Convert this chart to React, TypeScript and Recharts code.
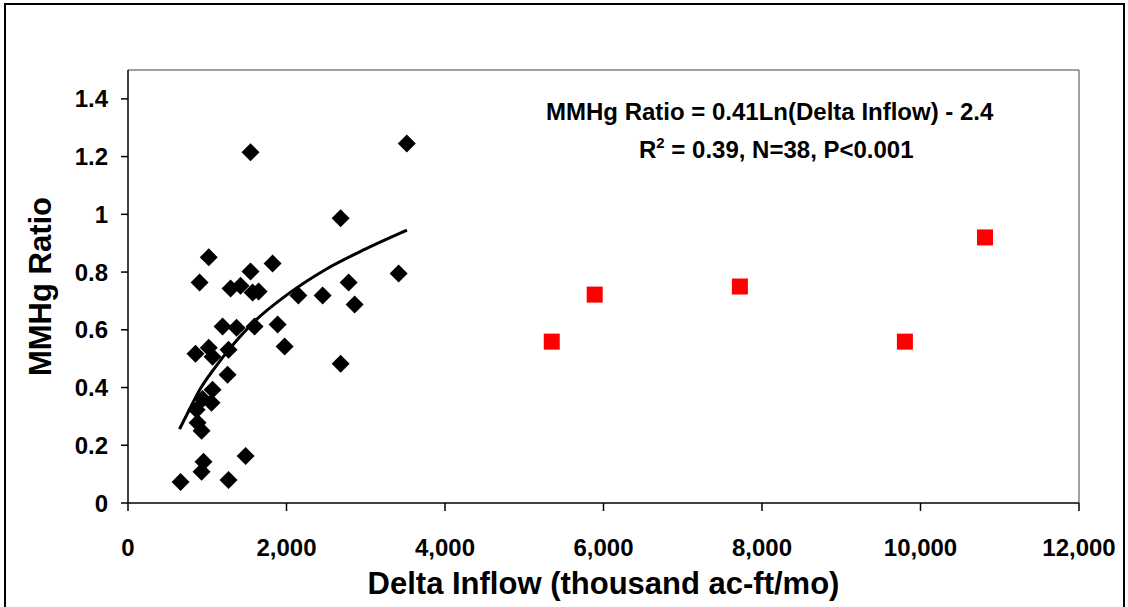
import { ComposedChart, Scatter, Line, XAxis, YAxis, ReferenceLine } from 'recharts';

// Delta inflow (thousand ac-ft/mo) vs MMHg ratio, fitted samples (black)
const sampleInflow = [663, 852, 865, 878, 903, 928, 928, 941, 953, 1019, 1019, 1054, 1067, 1067, 1193, 1256, 1269, 1269, 1294, 1370, 1420, 1484, 1546, 1546, 1572, 1597, 1648, 1824, 1888, 1976, 2150, 2456, 2683, 2683, 2784, 2860, 3415, 3518];
const sampleRatio = [0.073, 0.517, 0.323, 0.278, 0.764, 0.25, 0.108, 0.36, 0.143, 0.851, 0.538, 0.347, 0.507, 0.392, 0.611, 0.444, 0.531, 0.08, 0.743, 0.607, 0.753, 0.163, 1.215, 0.802, 0.729, 0.611, 0.733, 0.83, 0.618, 0.542, 0.719, 0.719, 0.986, 0.482, 0.764, 0.688, 0.795, 1.245];

// high-flow months left out of the fit (red)
const highInflow = [5347, 5889, 7721, 9803, 10814];
const highRatio = [0.559, 0.722, 0.75, 0.559, 0.92];

// log trend line
const trendInflow = [650, 750, 900, 1100, 1300, 1600, 2000, 2500, 3000, 3520];
const trendRatio = [0.256, 0.31, 0.39, 0.47, 0.54, 0.63, 0.72, 0.81, 0.88, 0.945];

const xTicks = [0, 2000, 4000, 6000, 8000, 10000, 12000];
const yTicks = [0, 0.2, 0.4, 0.6, 0.8, 1, 1.2, 1.4];

const samples = sampleInflow.map((x, i) => ({ x, y: sampleRatio[i] }));
const highFlow = highInflow.map((x, i) => ({ x, y: highRatio[i] }));
const trend = trendInflow.map((x, i) => ({ x, y: trendRatio[i] }));

const FONT = '"Liberation Sans", Arial, sans-serif';

const Diamond = (props: any) => {
  const { cx, cy } = props;
  const r = 9;
  return <polygon points={`${cx},${cy - r} ${cx + r},${cy} ${cx},${cy + r} ${cx - r},${cy}`} fill="#000" />;
};

const Square = (props: any) => {
  const { cx, cy } = props;
  return <rect x={cx - 8} y={cy - 8} width={16} height={16} fill="#ff0000" />;
};

export default function App() {
  const tickStyle = { fill: '#000', fontSize: 24, fontWeight: 700, fontFamily: FONT };

  return (
    <div style={{ position: 'absolute', left: 0, top: 0, width: 1128, height: 607, background: '#fff', overflow: 'hidden' }}>
      <div
        style={{
          position: 'absolute',
          left: 4,
          top: 3,
          width: 1121,
          height: 640,
          border: '2px solid #000',
          boxSizing: 'border-box',
        }}
      />
      <ComposedChart width={1128} height={607} margin={{ top: 70, right: 49, bottom: 0, left: 0 }} style={{ position: 'absolute', left: 0, top: 0 }}>
        <XAxis
          type="number"
          dataKey="x"
          domain={[0, 12000]}
          ticks={xTicks}
          tickFormatter={(v: number) => v.toLocaleString('en-US')}
          height={104}
          tickSize={8}
          tickMargin={28}
          tick={tickStyle}
          axisLine={{ stroke: '#000', strokeWidth: 1.5 }}
          tickLine={{ stroke: '#000', strokeWidth: 1.5 }}
          label={{
            value: 'Delta Inflow (thousand ac-ft/mo)',
            position: 'insideBottom',
            offset: 13,
            style: { fill: '#000', fontSize: 31, fontWeight: 700, fontFamily: FONT },
          }}
        />
        <YAxis
          type="number"
          dataKey="y"
          domain={[0, 1.5]}
          ticks={yTicks}
          width={128}
          tickSize={7}
          tickMargin={13}
          tick={tickStyle}
          axisLine={{ stroke: '#000', strokeWidth: 1.5 }}
          tickLine={{ stroke: '#000', strokeWidth: 1.5 }}
          label={{
            value: 'MMHg Ratio',
            angle: -90,
            position: 'insideLeft',
            offset: 40,
            style: { textAnchor: 'middle', fill: '#000', fontSize: 31, fontWeight: 700, fontFamily: FONT },
          }}
        />
        <ReferenceLine y={1.5} stroke="#808080" strokeWidth={1.5} />
        <ReferenceLine x={12000} stroke="#808080" strokeWidth={1.5} />
        <Line
          data={trend}
          dataKey="y"
          type="monotone"
          stroke="#000"
          strokeWidth={3}
          dot={false}
          activeDot={false}
          isAnimationActive={false}
        />
        <Scatter data={samples} dataKey="y" shape={<Diamond />} isAnimationActive={false} />
        <Scatter data={highFlow} dataKey="y" shape={<Square />} isAnimationActive={false} />
      </ComposedChart>
      <svg width={1128} height={607} style={{ position: 'absolute', left: 0, top: 0, pointerEvents: 'none' }}>
        <text x={546} y={120} fontSize={24} fontWeight={700} fontFamily={FONT} fill="#000">
          MMHg Ratio = 0.41Ln(Delta Inflow) - 2.4
        </text>
        <text x={639} y={158} fontSize={24} fontWeight={700} fontFamily={FONT} fill="#000">
          R<tspan dy={-10} fontSize={15}>2</tspan>
          <tspan dy={10}> = 0.39, N=38, P&lt;0.001</tspan>
        </text>
      </svg>
    </div>
  );
}
